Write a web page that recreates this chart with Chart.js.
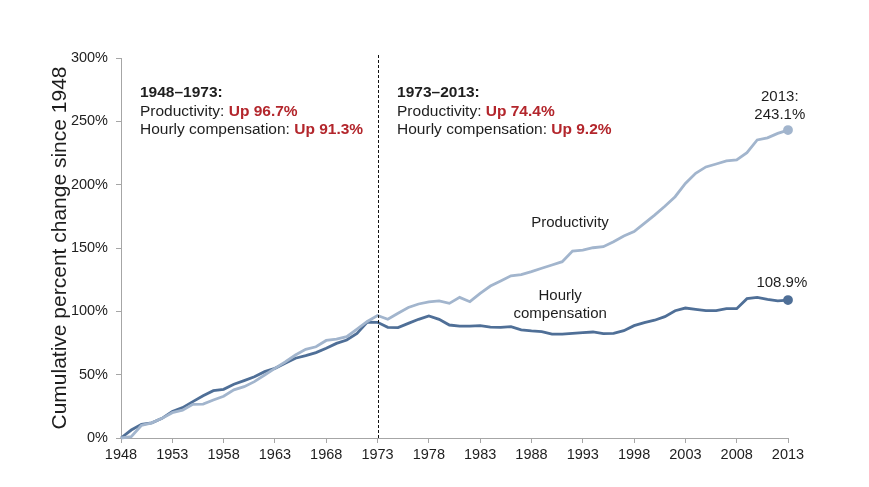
<!DOCTYPE html>
<html>
<head>
<meta charset="utf-8">
<script src="https://cdn.jsdelivr.net/npm/chart.js@4.4.1/dist/chart.umd.min.js"></script>
<style>
  html, body { margin: 0; padding: 0; background: #ffffff; }
  #wrap { width: 869px; height: 487px; position: relative; }
</style>
</head>
<body>
<div id="wrap"><canvas id="gapChart"></canvas></div>
<script>
// Years (categories)
const years = [
  1948, 1949, 1950, 1951, 1952, 1953, 1954, 1955, 1956, 1957,
  1958, 1959, 1960, 1961, 1962, 1963, 1964, 1965, 1966, 1967,
  1968, 1969, 1970, 1971, 1972, 1973, 1974, 1975, 1976, 1977,
  1978, 1979, 1980, 1981, 1982, 1983, 1984, 1985, 1986, 1987,
  1988, 1989, 1990, 1991, 1992, 1993, 1994, 1995, 1996, 1997,
  1998, 1999, 2000, 2001, 2002, 2003, 2004, 2005, 2006, 2007,
  2008, 2009, 2010, 2011, 2012, 2013
];

// Cumulative % change since 1948 — productivity
const productivity = [
  0, 1, 10, 12, 15.5, 20, 22, 26.6, 26.8, 30,
  33, 38, 40.5, 44.5, 49.7, 55, 60, 65.5, 70, 72,
  77, 78, 80, 86, 92, 96.7, 93.7, 98.5, 103, 105.8,
  107.4, 108.2, 106.3, 111, 107.6, 114.2, 120, 124, 128, 129,
  131.3, 134, 136.6, 139.2, 147.6, 148.4, 150.2, 151, 155, 159.5,
  163, 169.5, 176, 183, 190.5, 201, 209, 214, 216.3, 218.7,
  219.5, 225.3, 235.3, 237, 240.5, 243.1
];

// Cumulative % change since 1948 — hourly compensation
const compensation = [
  0, 6.3, 10.8, 12, 15.5, 21, 24, 28.7, 33.4, 37.4,
  38.4, 42.4, 45.3, 48.4, 52.4, 55, 59, 63, 65, 67.4,
  70.8, 74.7, 77.4, 82.6, 91.5, 91.3, 87.4, 87.2, 90.5, 93.7,
  96.3, 93.7, 89.2, 88.4, 88.4, 88.7, 87.6, 87.4, 87.9, 85.3,
  84.5, 84, 82, 82, 82.6, 83.2, 83.7, 82.4, 82.6, 84.7,
  88.7, 91.1, 93, 95.8, 100.5, 102.6, 101.6, 100.5, 100.5, 102.1,
  102.1, 110, 111, 109.5, 108.2, 108.9
];

// Tick labels
const xTicks = [1948, 1953, 1958, 1963, 1968, 1973, 1978, 1983, 1988, 1993, 1998, 2003, 2008, 2013];
const yTicks = [0, 50, 100, 150, 200, 250, 300];

const lightBlue = '#a2b5cd';
const darkBlue = '#4f6f97';
const redText = '#b3262c';
const textColor = '#1e1e1e';
const axisGray = '#a6a6a6';
const fontFamily = "'Liberation Sans', Arial, sans-serif";

function toPoints(vals) {
    return vals.map(function(v, i) { return { x: years[i], y: v }; });
}

function lastPointOnly(ctx) {
    return ctx.dataIndex === years.length - 1 ? 3.5 : 0;
}

// Plugin: dashed 1973 line + text annotations
const annotationsPlugin = {
    id: 'annotations',
    afterDatasetsDraw(chart) {
        const { ctx, chartArea, scales } = chart;
        const xs = scales.x, ys = scales.y;

        // dashed vertical line at 1973
        const xd = Math.round(xs.getPixelForValue(1973)) + 0.5;
        ctx.save();
        ctx.strokeStyle = '#111111';
        ctx.lineWidth = 1;
        ctx.setLineDash([3, 2]);
        ctx.beginPath();
        ctx.moveTo(xd, chartArea.top - 3);
        ctx.lineTo(xd, chartArea.bottom);
        ctx.stroke();
        ctx.restore();

        ctx.save();
        ctx.textBaseline = 'middle';
        const regular = '15.5px ' + fontFamily;
        const bold = 'bold 15.5px ' + fontFamily;

        function drawMixed(x, y, parts) {
            let cx = x;
            ctx.textAlign = 'left';
            parts.forEach(function(p) {
                ctx.font = p.bold ? bold : regular;
                ctx.fillStyle = p.color || textColor;
                ctx.fillText(p.text, cx, y);
                cx += ctx.measureText(p.text).width;
            });
        }

        function drawBlock(year, value, title, prod, comp) {
            const x = xs.getPixelForValue(year);
            const y = ys.getPixelForValue(value);
            drawMixed(x, y, [{ text: title, bold: true }]);
            drawMixed(x, y + 18.7, [{ text: 'Productivity: ' }, { text: prod, bold: true, color: redText }]);
            drawMixed(x, y + 37.4, [{ text: 'Hourly compensation: ' }, { text: comp, bold: true, color: redText }]);
        }

        drawBlock(1949.85, 272.6, '1948\u20131973:', 'Up 96.7%', 'Up 91.3%');
        drawBlock(1974.9, 272.6, '1973\u20132013:', 'Up 74.4%', 'Up 9.2%');

        // series labels
        ctx.font = '15px ' + fontFamily;
        ctx.fillStyle = textColor;
        ctx.textAlign = 'center';
        ctx.fillText('Productivity', xs.getPixelForValue(1991.76), ys.getPixelForValue(170));
        ctx.fillText('Hourly', xs.getPixelForValue(1990.8), ys.getPixelForValue(112));
        ctx.fillText('compensation', xs.getPixelForValue(1990.8), ys.getPixelForValue(97.9));
        ctx.fillText('2013:', xs.getPixelForValue(2012.2), ys.getPixelForValue(269.4));
        ctx.fillText('243.1%', xs.getPixelForValue(2012.2), ys.getPixelForValue(254.9));
        ctx.fillText('108.9%', xs.getPixelForValue(2012.4), ys.getPixelForValue(122.4));
        ctx.restore();
    }
};

const ctx = document.getElementById('gapChart').getContext('2d');
new Chart(ctx, {
    type: 'line',
    data: {
        datasets: [{
            label: 'Productivity',
            data: toPoints(productivity),
            borderColor: lightBlue,
            backgroundColor: lightBlue,
            pointBackgroundColor: lightBlue,
            pointBorderColor: lightBlue,
            borderWidth: 2.8,
            pointRadius: lastPointOnly,
            tension: 0,
            fill: false,
            clip: false
        }, {
            label: 'Hourly compensation',
            data: toPoints(compensation),
            borderColor: darkBlue,
            backgroundColor: darkBlue,
            pointBackgroundColor: darkBlue,
            pointBorderColor: darkBlue,
            borderWidth: 2.8,
            pointRadius: lastPointOnly,
            tension: 0,
            fill: false,
            clip: false
        }]
    },
    options: {
        responsive: true,
        maintainAspectRatio: false,
        animation: false,
        layout: {
            padding: { left: 0, right: 81, top: 58, bottom: 0 }
        },
        scales: {
            x: {
                type: 'linear',
                min: 1948,
                max: 2013,
                afterBuildTicks: function(scale) {
                    scale.ticks = xTicks.map(function(v) { return { value: v }; });
                },
                afterFit: function(scale) { scale.height = 49; },
                grid: {
                    drawOnChartArea: false,
                    drawTicks: true,
                    tickLength: 5,
                    color: axisGray
                },
                border: { display: true, color: axisGray, width: 1 },
                ticks: {
                    autoSkip: false,
                    maxRotation: 0,
                    padding: 3,
                    color: textColor,
                    font: { family: fontFamily, size: 14.5 },
                    callback: function(v) { return String(v); }
                }
            },
            y: {
                min: 0,
                max: 300,
                afterBuildTicks: function(scale) {
                    scale.ticks = yTicks.map(function(v) { return { value: v }; });
                },
                afterFit: function(scale) { scale.width = 121; },
                grid: {
                    drawOnChartArea: false,
                    drawTicks: true,
                    tickLength: 5,
                    color: axisGray
                },
                border: { display: true, color: axisGray, width: 1 },
                ticks: {
                    padding: 8,
                    color: textColor,
                    font: { family: fontFamily, size: 14.5 },
                    callback: function(v) { return v + '%'; }
                },
                title: {
                    display: true,
                    text: 'Cumulative percent change since 1948',
                    color: textColor,
                    font: { family: fontFamily, size: 21 },
                    padding: { top: 48, bottom: 0 }
                }
            }
        },
        plugins: {
            legend: { display: false },
            tooltip: { enabled: false }
        }
    },
    plugins: [annotationsPlugin]
});
</script>
</body>
</html>
